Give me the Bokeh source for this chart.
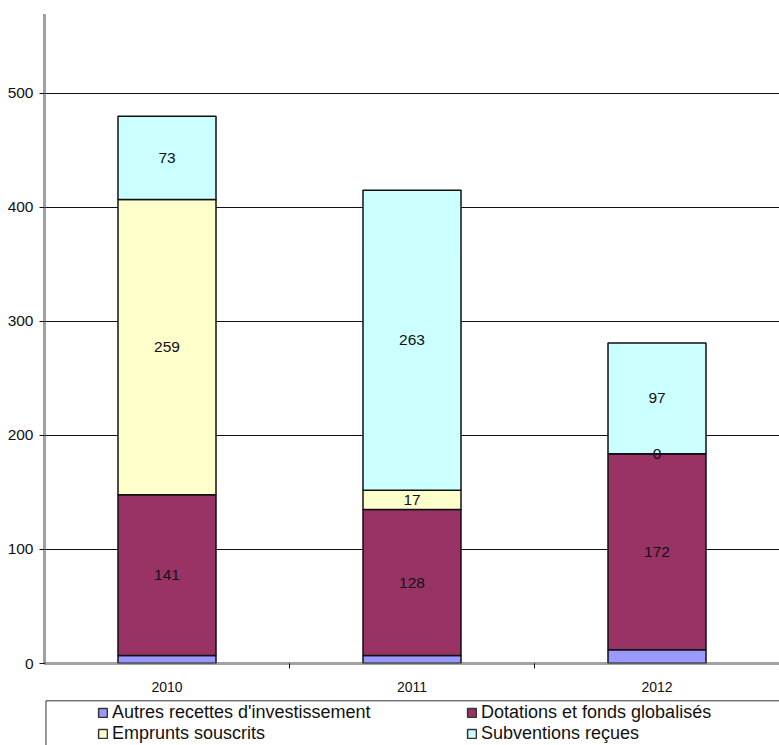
from bokeh.plotting import figure
from bokeh.models import Range1d, FixedTicker, Legend, LegendItem, ColumnDataSource
from bokeh.layouts import column
from bokeh.core.properties import value
from bokeh.embed import file_html
from bokeh.resources import INLINE

years = ["2010", "2011", "2012"]
autres = [7, 7, 12]
dotations = [141, 128, 172]
emprunts = [259, 17, 0]
subventions = [73, 263, 97]
series_names = ["Autres recettes d'investissement", "Dotations et fonds globalisés",
                "Emprunts souscrits", "Subventions reçues"]
colors = ["#9999FF", "#993366", "#FFFFCC", "#CCFFFF"]
y_ticks = [0, 100, 200, 300, 400, 500]

FONT = "Liberation Sans"
xs = list(range(len(years)))
src = ColumnDataSource(dict(x=xs, autres=autres, dotations=dotations,
                            emprunts=emprunts, subventions=subventions))
keys = ["autres", "dotations", "emprunts", "subventions"]

p = figure(width=779, height=699, x_range=Range1d(-0.5, 2.5), y_range=Range1d(0, 570),
           output_backend="svg", toolbar_location=None,
           min_border_left=44, min_border_right=0, min_border_top=13, min_border_bottom=36)
p.outline_line_color = None
p.background_fill_color = "white"
p.border_fill_color = "white"

renderers = p.vbar_stack(keys, x="x", width=0.4, source=src, color=colors,
                         line_color="#111111", line_width=1.5)

# labels (centres computed from data)
lab_x, lab_y, lab_t = [], [], []
for i in xs:
    base = autres[i]
    for vals, show_zero in ((dotations, False), (emprunts, True), (subventions, False)):
        v = vals[i]
        if v > 0 or show_zero:
            lab_x.append(i)
            lab_y.append(base + v / 2)
            lab_t.append(str(v))
        base += v
p.text(x=lab_x, y=lab_y, text=lab_t, text_align="center", text_baseline="middle",
       text_font=value(FONT), text_font_size="15.5px", text_color="#111111")

# axes
p.xaxis.ticker = FixedTicker(ticks=xs, minor_ticks=[0.5, 1.5])
p.xaxis.major_label_overrides = {i: y for i, y in zip(xs, years)}
p.xaxis.major_tick_out = 0
p.xaxis.major_tick_in = 0
p.xaxis.minor_tick_out = 5
p.xaxis.minor_tick_in = 0
p.xaxis.minor_tick_line_color = "#111111"
p.xaxis.major_label_standoff = 13
p.yaxis.ticker = FixedTicker(ticks=y_ticks)
p.yaxis.major_tick_out = 5
p.yaxis.major_tick_in = 0
p.yaxis.minor_tick_line_color = None
p.yaxis.major_label_standoff = 6
for ax in (p.xaxis, p.yaxis):
    ax.axis_line_color = "#444444"
    ax.axis_line_width = 3
    ax.axis_line_dash = "1 1"
    ax.major_tick_line_color = "#111111"
    ax.major_label_text_font = FONT
    ax.major_label_text_font_size = "15.5px"
    ax.major_label_text_color = "#111111"
p.xaxis.major_label_text_font_size = "14px"
p.xgrid.grid_line_color = None
p.ygrid.ticker = FixedTicker(ticks=y_ticks)
p.ygrid.grid_line_color = "#111111"
p.ygrid.grid_line_width = 1

# legend panel below the chart
pl = figure(width=779, height=46, x_range=Range1d(-0.002, 1), y_range=Range1d(0, 1.03),
            output_backend="svg", toolbar_location=None,
            min_border_left=44, min_border_right=0, min_border_top=0, min_border_bottom=0)
pl.axis.visible = False
pl.grid.visible = False
pl.outline_line_color = None
pl.background_fill_color = "white"
pl.border_fill_color = "white"
pl.quad(left=[0], right=[2], bottom=[-1], top=[1], fill_color=None,
        line_color="#333333", line_width=1)

# hidden copies of the series, used only as legend swatches
leg_renderers = pl.vbar_stack(keys, x="x", width=0.4, source=src, color=colors,
                              line_color="#333333", line_width=1.5)
for r in leg_renderers:
    r.visible = False
items = [LegendItem(label=n, renderers=[r]) for n, r in zip(series_names, leg_renderers)]
leg = Legend(items=items, location=(53, 1), orientation="horizontal", ncols=2,
             padding=0, margin=0, spacing=0, glyph_width=11, glyph_height=11,
             label_standoff=4, label_width=354, label_height=21,
             label_text_font=FONT, label_text_font_size="18px", label_text_color="#111111",
             border_line_color=None, background_fill_alpha=0)
pl.add_layout(leg, "center")

layout = column(p, pl, spacing=0)
open("out.html", "w").write(file_html(layout, INLINE))
